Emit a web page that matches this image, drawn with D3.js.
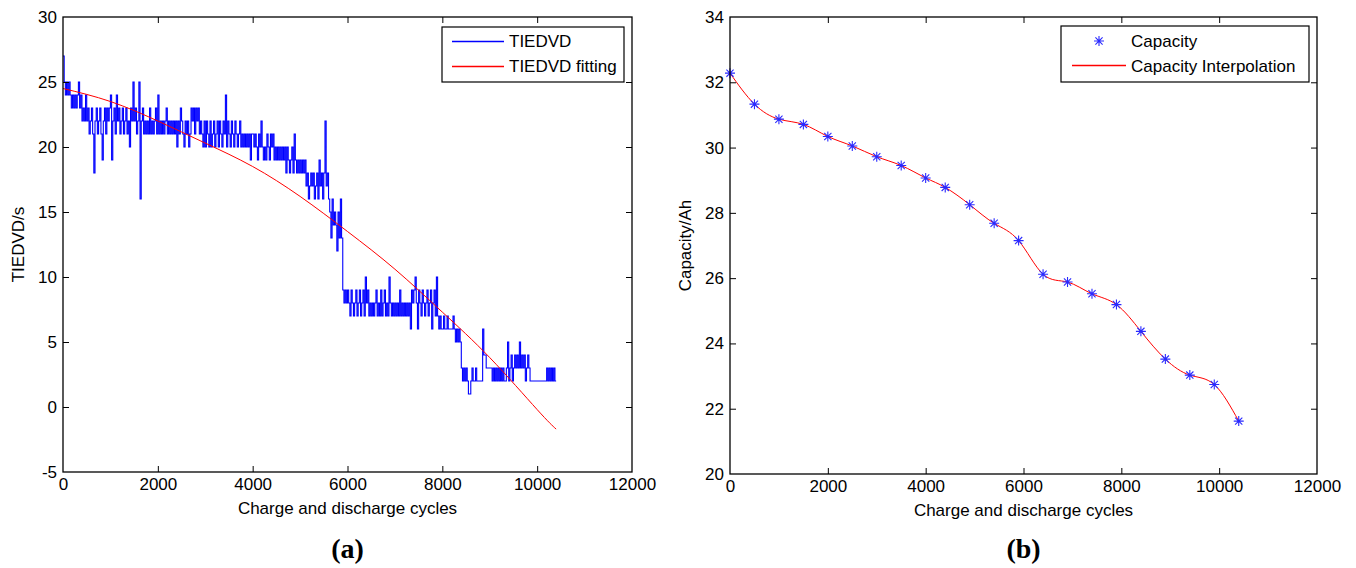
<!DOCTYPE html>
<html><head><meta charset="utf-8">
<script src="https://cdn.jsdelivr.net/npm/d3@7"></script>
<style>
body{margin:0;background:#fff}
svg{display:block}
</style>
</head><body>
<svg id="chart" width="1356" height="568"></svg>
<script>
// ---------- tick labels ----------
const xTickValues = [0, 2000, 4000, 6000, 8000, 10000, 12000];
const leftYTickValues = [-5, 0, 5, 10, 15, 20, 25, 30];
const rightYTickValues = [20, 22, 24, 26, 28, 30, 32, 34];

// ---------- panel (a): TIEDVD, one reading every 25 cycles ----------
const tiedvdStep = 25;
const tiedvd0000 = [27,25,24,25,24,25,24,23,24,23,24,23,24,25,23,24,22,23,22,24,22,23,21,22,23,21,18,22,23,21,22,23,21,19,22,23,21,23,22,23];
const tiedvd1000 = [24,19,22,23,21,24,22,23,21,22,23,21,22,23,21,22,20,23,22,25,22,23,21,22,25,16,22,23,21,22,21,22,21,23,21,22,21,22,23,21];
const tiedvd2000 = [24,21,22,21,22,21,22,23,21,22,21,22,21,22,21,22,20,22,21,23,22,21,20,22,21,22,20,21,23,22,23,21,23,22,23,21,22,21,20,22];
const tiedvd3000 = [20,22,21,20,22,20,21,22,20,21,22,20,22,21,20,22,21,24,20,22,21,20,22,21,20,22,21,20,21,22,20,21,20,21,20,21,20,21,19,21];
const tiedvd4000 = [21,20,21,20,19,21,20,22,20,19,20,19,21,20,19,21,20,21,19,20,19,20,19,20,19,20,19,20,18,20,19,18,19,20,18,21,19,18,19,18];
const tiedvd5000 = [19,18,19,18,19,17,18,16,17,18,17,18,16,17,18,16,19,17,18,16,18,22,17,18,16,15,13,16,14,15,14,12,15,13,16,13,9,8,9,8];
const tiedvd6000 = [9,8,7,9,8,7,8,9,7,8,9,7,8,9,7,10,8,9,7,8,7,8,7,8,9,7,8,7,9,7,8,9,7,8,7,10,8,7,8,7];
const tiedvd7000 = [8,7,8,7,9,7,8,7,8,7,8,7,8,6,9,8,9,10,8,6,9,8,7,9,8,7,8,9,7,8,9,6,8,9,7,10,7,6,7,6];
const tiedvd8000 = [6,7,6,6,7,6,6,6,6,7,6,5,6,5,6,5,3,2,3,2,3,2,1,1,2,3,2,2,3,2,2,2,2,2,6,4,4,3,3,3];
const tiedvd9000 = [3,3,2,3,2,3,2,3,2,3,2,3,2,2,3,5,2,3,4,2,3,4,3,4,3,5,3,4,3,4,2,3,4,3,2,2,2,2,2,2,2,2,2,2,2,2,2,2,3,2,3,2,3,2,3,2,2];
const tiedvdEndCycle = 10400;

// fitted curve
const fitCycles = [0, 1000, 2000, 3000, 4000, 5000, 6000, 7000, 8000, 9000, 10000, 10400];
const fitValues = [24.5, 23.5, 22.0, 20.3, 18.5, 16.2, 13.5, 10.6, 7.3, 3.8, -0.2, -1.7];

// ---------- panel (b): capacity ----------
const capCycles = [0, 500, 1000, 1500, 2000, 2500, 3000, 3500, 4000, 4400, 4900, 5400, 5900, 6400, 6900, 7400, 7900, 8400, 8900, 9400, 9900, 10400];
const capValues = [32.28, 31.33, 30.87, 30.71, 30.34, 30.05, 29.72, 29.45, 29.07, 28.78, 28.25, 27.68, 27.15, 26.12, 25.88, 25.52, 25.19, 24.37, 23.52, 23.03, 22.74, 21.62];

// ---------- layout ----------
const svg = d3.select("#chart");
const FONT = 17;
const SANS = '"Liberation Sans",Arial,Helvetica,sans-serif';
const SERIF = '"Liberation Serif","Times New Roman",serif';
const fmt = d => String(d);

function starPath(r) {
  const d = r * 0.72;
  return `M${-r},0H${r}M0,${-r}V${r}M${-d},${-d}L${d},${d}M${-d},${d}L${d},${-d}`;
}

function label(sel) {
  return sel.style("font-family", SANS).style("font-size", FONT + "px").style("fill", "#000");
}

function drawFrame(x, y, yTicks, ylabel, panelLabel) {
  const [x0, x1] = x.range();
  const [y1, y0] = y.range();
  const g = svg.append("g");
  const tick = 6;
  const bx = g.append("g").attr("transform", `translate(0,${y1})`)
    .call(d3.axisBottom(x).tickValues(xTickValues).tickFormat(fmt).tickSizeInner(-tick).tickSizeOuter(0).tickPadding(6));
  const tx = g.append("g").attr("transform", `translate(0,${y0})`)
    .call(d3.axisTop(x).tickValues(xTickValues).tickFormat("").tickSizeInner(-tick).tickSizeOuter(0));
  const ly = g.append("g").attr("transform", `translate(${x0},0)`)
    .call(d3.axisLeft(y).tickValues(yTicks).tickFormat(fmt).tickSizeInner(-tick).tickSizeOuter(0).tickPadding(6));
  const ry = g.append("g").attr("transform", `translate(${x1},0)`)
    .call(d3.axisRight(y).tickValues(yTicks).tickFormat("").tickSizeInner(-tick).tickSizeOuter(0));
  [bx, tx, ly, ry].forEach(a => {
    a.selectAll(".domain").remove();
    a.selectAll(".tick line").attr("stroke", "#000").attr("stroke-width", 1);
    label(a.selectAll("text"));
  });
  const ends = (d, s) => d === s.domain()[0] || d === s.domain()[1];
  bx.selectAll(".tick").filter(d => ends(d, x)).select("line").remove();
  tx.selectAll(".tick").filter(d => ends(d, x)).select("line").remove();
  ly.selectAll(".tick").filter(d => ends(d, y)).select("line").remove();
  ry.selectAll(".tick").filter(d => ends(d, y)).select("line").remove();
  g.append("rect").attr("x", x0).attr("y", y0).attr("width", x1 - x0).attr("height", y1 - y0)
    .attr("fill", "none").attr("stroke", "#000").attr("stroke-width", 1.3);
  label(g.append("text").attr("x", (x0 + x1) / 2).attr("y", y1 + 42).attr("text-anchor", "middle"))
    .text("Charge and discharge cycles");
  label(g.append("text").attr("transform", `translate(${x0 - 39},${(y0 + y1) / 2}) rotate(-90)`)
    .attr("text-anchor", "middle")).text(ylabel);
  g.append("text").attr("x", (x0 + x1) / 2).attr("y", 558).attr("text-anchor", "middle")
    .style("font-family", SERIF).style("font-weight", "bold").style("font-size", "28px").style("fill", "#000")
    .text(panelLabel);
}

// ---------- panel (a) ----------
const xA = d3.scaleLinear().domain([0, 12000]).range([63, 632]);
const yA = d3.scaleLinear().domain([-5, 30]).range([472, 17]);
const tiedvd = [].concat(tiedvd0000, tiedvd1000, tiedvd2000, tiedvd3000, tiedvd4000,
  tiedvd5000, tiedvd6000, tiedvd7000, tiedvd8000, tiedvd9000);
const tiedvdPoints = tiedvd.map((v, i) => [i * tiedvdStep, v]);
tiedvdPoints.push([tiedvdEndCycle, tiedvd[tiedvd.length - 1]]);

svg.append("path").datum(tiedvdPoints)
  .attr("d", d3.line().x(d => xA(d[0])).y(d => yA(d[1])).curve(d3.curveStepAfter))
  .style("fill", "none").style("stroke", "#0000ff").style("stroke-width", 1.1);
svg.append("path").datum(fitCycles.map((c, i) => [c, fitValues[i]]))
  .attr("d", d3.line().x(d => xA(d[0])).y(d => yA(d[1])).curve(d3.curveNatural))
  .style("fill", "none").style("stroke", "#ff0000").style("stroke-width", 1);
drawFrame(xA, yA, leftYTickValues, "TIEDVD/s", "(a)");

// legend (a)
const legA = svg.append("g");
legA.append("rect").attr("x", 442).attr("y", 27).attr("width", 182).attr("height", 55)
  .style("fill", "#fff").style("stroke", "#000").style("stroke-width", 1.2);
legA.append("line").attr("x1", 452).attr("x2", 504).attr("y1", 41.5).attr("y2", 41.5)
  .style("stroke", "#0000ff").style("stroke-width", 1.3);
legA.append("line").attr("x1", 452).attr("x2", 504).attr("y1", 66.5).attr("y2", 66.5)
  .style("stroke", "#ff0000").style("stroke-width", 1.3);
label(legA.append("text").attr("x", 509).attr("y", 47)).text("TIEDVD");
label(legA.append("text").attr("x", 509).attr("y", 72)).text("TIEDVD fitting");

// ---------- panel (b) ----------
const xB = d3.scaleLinear().domain([0, 12000]).range([730, 1317]);
const yB = d3.scaleLinear().domain([20, 34]).range([474, 17]);
const capPoints = capCycles.map((c, i) => [c, capValues[i]]);
svg.append("path").datum(capPoints)
  .attr("d", d3.line().x(d => xB(d[0])).y(d => yB(d[1])).curve(d3.curveNatural))
  .style("fill", "none").style("stroke", "#ff0000").style("stroke-width", 1);
svg.append("g").selectAll("path").data(capPoints).join("path")
  .attr("transform", d => `translate(${xB(d[0])},${yB(d[1])})`)
  .attr("d", starPath(5)).style("fill", "none").style("stroke", "#2a2aff").style("stroke-width", 1.1);
drawFrame(xB, yB, rightYTickValues, "Capacity/Ah", "(b)");

// legend (b)
const legB = svg.append("g");
legB.append("rect").attr("x", 1061).attr("y", 26).attr("width", 248).attr("height", 56)
  .style("fill", "#fff").style("stroke", "#000").style("stroke-width", 1.2);
legB.append("path").attr("transform", "translate(1099,41)").attr("d", starPath(5))
  .style("fill", "none").style("stroke", "#2a2aff").style("stroke-width", 1.1);
legB.append("line").attr("x1", 1072).attr("x2", 1126).attr("y1", 65.5).attr("y2", 65.5)
  .style("stroke", "#ff0000").style("stroke-width", 1.3);
label(legB.append("text").attr("x", 1131).attr("y", 47)).text("Capacity");
label(legB.append("text").attr("x", 1131).attr("y", 72)).text("Capacity Interpolation");
</script>
</body></html>
